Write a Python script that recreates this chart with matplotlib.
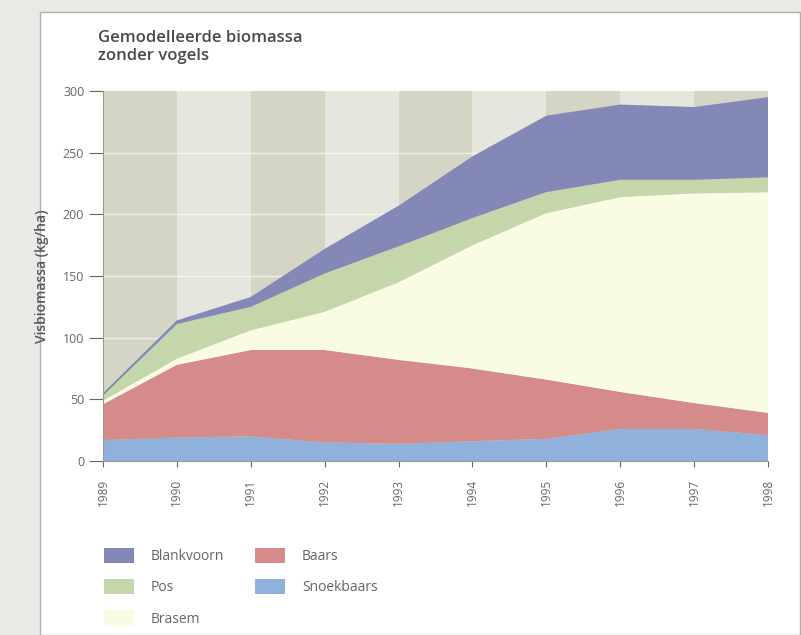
import matplotlib.pyplot as plt
from matplotlib.patches import Rectangle

plt.rcParams['font.family'] = ['Open Sans', 'DejaVu Sans']

years = [1989, 1990, 1991, 1992, 1993, 1994, 1995, 1996, 1997, 1998]
snoekbaars = [17, 19, 20, 15, 14, 16, 18, 26, 26, 21]
baars = [29, 59, 70, 75, 68, 59, 48, 30, 21, 18]
brasem = [3, 5, 16, 31, 63, 100, 135, 158, 170, 179]
pos = [4, 28, 19, 31, 29, 22, 17, 14, 11, 12]
blankvoorn = [2, 3, 8, 20, 33, 50, 62, 61, 59, 65]

names = ['Blankvoorn', 'Pos', 'Brasem', 'Baars', 'Snoekbaars']
colors = {'Blankvoorn': '#8488b6', 'Pos': '#c4d6aa', 'Brasem': '#f9fce2',
          'Baars': '#d58b89', 'Snoekbaars': '#90b1dc'}

grey = '#666666'

fig = plt.figure(figsize=(8.01, 6.35), dpi=100)
fig.patch.set_facecolor('#e9e9e5')
fig.patches.append(Rectangle((40 / 801, 0), 760 / 801, 623 / 635, transform=fig.transFigure,
                             facecolor='white', edgecolor='#b0b0b0', lw=1.0, zorder=-10))

ax = fig.add_axes([103 / 801, (635 - 461) / 635, 665 / 801, 370 / 635])
ax.set_facecolor('none')

# alternating background stripes
for i, y in enumerate(years[:-1]):
    ax.axvspan(y, y + 1, color='#d5d5c6' if i % 2 == 0 else '#e6e6df', lw=0, zorder=0)
for g in [50, 100, 150, 200, 250]:
    ax.axhline(g, color='white', lw=1.0, alpha=0.6, zorder=1)

ax.stackplot(years, snoekbaars, baars, brasem, pos, blankvoorn,
             colors=[colors['Snoekbaars'], colors['Baars'], colors['Brasem'],
                     colors['Pos'], colors['Blankvoorn']], zorder=2)

ax.set_xlim(1989, 1998)
ax.set_ylim(0, 300)
ax.set_xticks(years)
ax.set_xticklabels([str(y) for y in years], rotation=90, fontsize=8.5, color=grey)
ax.set_yticks([0, 50, 100, 150, 200, 250, 300])
ax.tick_params(axis='y', labelsize=9, colors=grey, length=10, width=0.8)
ax.tick_params(axis='x', colors=grey, length=4, width=0.8, pad=9)
for s in ['top', 'right']:
    ax.spines[s].set_visible(False)
for s in ['left', 'bottom']:
    ax.spines[s].set_color('#999999')
    ax.spines[s].set_linewidth(0.8)
ax.set_ylabel('Visbiomassa (kg/ha)', fontsize=10, color='#555555', fontweight='semibold', labelpad=10)

fig.text(98 / 801, 1 - 47 / 635, 'Gemodelleerde biomassa\nzonder vogels', fontsize=12,
         color='#4a4a4a', fontweight='semibold', va='center', ha='left', linespacing=1.25)

handles = [Rectangle((0, 0), 1, 1, facecolor=colors[n], edgecolor='none') for n in names]
leg = fig.legend(handles, names, ncol=2, loc='upper left', bbox_to_anchor=(91 / 801, 1 - 535 / 635),
                 frameon=False, fontsize=10, handlelength=2.2, handleheight=1.3,
                 handletextpad=1.2, columnspacing=2.2, labelspacing=1.1)
for t in leg.get_texts():
    t.set_color(grey)

fig.savefig('out.png', dpi=100, facecolor=fig.get_facecolor())
